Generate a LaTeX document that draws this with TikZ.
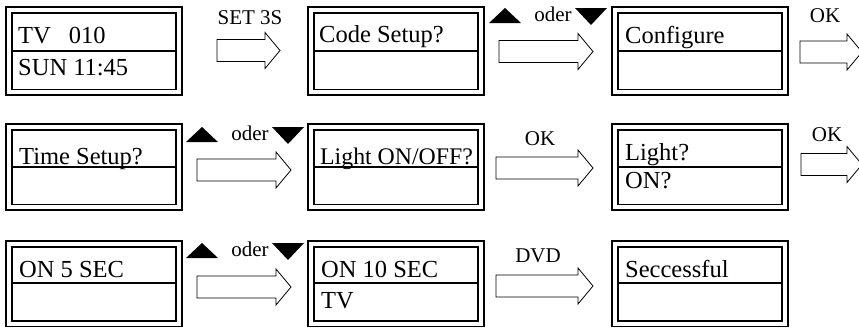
\documentclass[tikz,border=0pt]{standalone}
\usepackage{fontspec}
\setmainfont{Liberation Serif}
\usetikzlibrary{calc}
\tikzset{
  outerbox/.style={draw, line width=1.1pt, minimum width=176pt, inner sep=0pt, outer sep=0pt},
  innerline/.style={line width=1.8pt},
  lcdtext/.style={font=\fontsize{24.5}{30}\selectfont, inner sep=0pt, anchor=base west},
  lbl/.style={font=\fontsize{21}{25}\selectfont, inner sep=0pt, anchor=base},
  barrowstyle/.style={draw, line width=0.8pt, fill=white, line join=miter},
  tri/.style={fill=black},
}
% name, x, ytop, height, divider offset
\newcommand\lcdbox[5]{%
  \node[outerbox, minimum height=#4pt, anchor=north west] (#1) at (#2,#3) {};
  \draw[innerline] ([shift={(6pt,-6pt)}]#1.north west) rectangle ([shift={(-6pt,5.5pt)}]#1.south east);
  \draw[innerline] ([shift={(6pt,-#5pt)}]#1.north west) -- ([shift={(-6pt,-#5pt)}]#1.north east);
}
% name, xleft, ycenter, xtip
\newcommand\blockarrow[4]{%
  \coordinate (#1) at (#2,#3);
  \draw[barrowstyle] (#2,#3-11) -- (#4-15,#3-11) -- (#4-15,#3-18) -- (#4,#3)
    -- (#4-15,#3+18) -- (#4-15,#3+11) -- (#2,#3+11) -- cycle;
}
% name, x, ytop
\newcommand\updown[3]{%
  \fill[tri] (#2,#3+15) -- (#2+32,#3+15) -- (#2+16,#3) -- cycle;
  \fill[tri] (#2+86,#3) -- (#2+118,#3) -- (#2+102,#3+17) -- cycle;
  \node[lbl] (#1) at (#2+64,#3+13) {oder};
}
\begin{document}
\begin{tikzpicture}[x=1pt,y=-1pt]
\useasboundingbox (0,0) rectangle (859,327);
% row 1
\lcdbox{b1}{6}{7}{88}{44}
\node[lcdtext] (t1a) at (18,43) {TV\hspace{18pt}010};
\node[lcdtext] (t1b) at (18,75) {SUN 11:45};
\blockarrow{a1}{217}{50.5}{280}
\node[lbl] (l1) at (250,24) {SET 3S};
\lcdbox{b2}{308}{7}{88}{44}
\node[lcdtext] (t2a) at (319,42) {Code Setup?};
\updown{o1}{489}{8}
\blockarrow{a2}{499}{51.5}{593}
\lcdbox{b3}{612}{7}{88}{44}
\node[lcdtext] (t3a) at (625,43) {Configure};
\blockarrow{a3}{800}{52}{862}
\node[lbl] (l3) at (825,22) {OK};
% row 2
\lcdbox{b4}{6}{124}{86}{43}
\node[lcdtext] (t4a) at (19,164) {Time Setup?};
\updown{o2}{186}{127}
\blockarrow{a4}{197}{170}{291}
\lcdbox{b5}{308}{124}{86}{43}
\node[lcdtext, font=\fontsize{23.8}{30}\selectfont] (t5a) at (320,164) {Light ON/OFF?};
\blockarrow{a5}{496}{168}{593}
\node[lbl] (l5) at (540,145) {OK};
\lcdbox{b6}{612}{124}{86}{43}
\node[lcdtext] (t6a) at (625,160) {Light?};
\node[lcdtext] (t6b) at (625,188) {ON?};
\blockarrow{a6}{801}{164.5}{862}
\node[lbl] (l6) at (827,141) {OK};
% row 3
\lcdbox{b7}{6}{241}{85.5}{42}
\node[lcdtext] (t7a) at (19,277) {ON 5 SEC};
\updown{o3}{186}{243}
\blockarrow{a7}{197}{287}{291}
\lcdbox{b8}{308}{241}{85.5}{42}
\node[lcdtext] (t8a) at (321,277) {ON 10 SEC};
\node[lcdtext] (t8b) at (321,308) {TV};
\blockarrow{a8}{496}{286}{593}
\node[lbl] (l8) at (538,262) {DVD};
\lcdbox{b9}{612}{241}{85.5}{42}
\node[lcdtext] (t9a) at (625,277) {Seccessful};
\end{tikzpicture}
\end{document}
